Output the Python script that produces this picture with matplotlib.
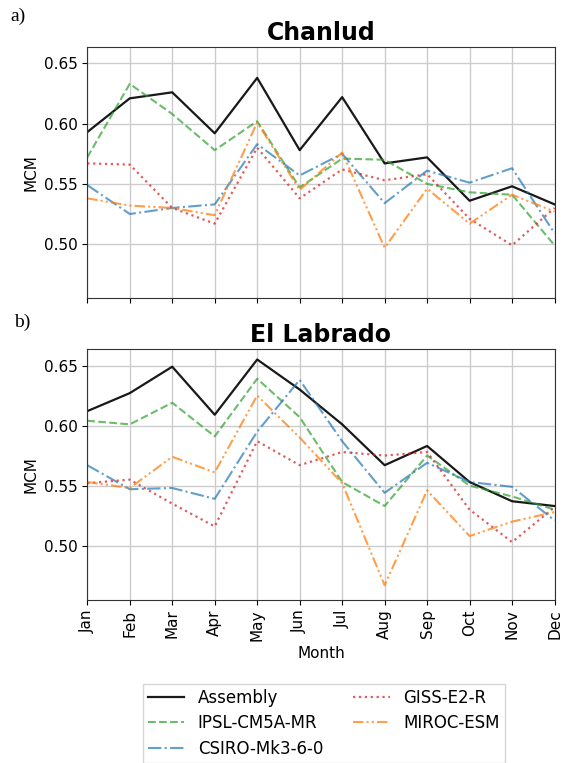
import matplotlib
matplotlib.use("Agg")
import matplotlib.pyplot as plt

months = ["Jan", "Feb", "Mar", "Apr", "May", "Jun", "Jul", "Aug", "Sep", "Oct", "Nov", "Dec"]
series_names = ["Assembly", "IPSL-CM5A-MR", "CSIRO-Mk3-6-0", "GISS-E2-R", "MIROC-ESM"]

chanlud_assembly = [0.593, 0.621, 0.626, 0.592, 0.638, 0.578, 0.622, 0.567, 0.572, 0.536, 0.548, 0.533]
chanlud_ipsl = [0.572, 0.633, 0.608, 0.578, 0.602, 0.547, 0.571, 0.570, 0.550, 0.543, 0.541, 0.499]
chanlud_csiro = [0.549, 0.525, 0.530, 0.533, 0.583, 0.557, 0.575, 0.534, 0.561, 0.551, 0.563, 0.509]
chanlud_giss = [0.567, 0.566, 0.530, 0.517, 0.580, 0.538, 0.562, 0.553, 0.558, 0.521, 0.499, 0.530]
chanlud_miroc = [0.538, 0.532, 0.530, 0.524, 0.601, 0.545, 0.576, 0.497, 0.546, 0.517, 0.541, 0.527]

labrado_assembly = [0.612, 0.627, 0.649, 0.609, 0.655, 0.630, 0.601, 0.567, 0.583, 0.553, 0.537, 0.533]
labrado_ipsl = [0.604, 0.601, 0.619, 0.591, 0.639, 0.607, 0.553, 0.533, 0.575, 0.550, 0.541, 0.530]
labrado_csiro = [0.567, 0.547, 0.548, 0.539, 0.595, 0.638, 0.587, 0.544, 0.569, 0.553, 0.549, 0.521]
labrado_giss = [0.552, 0.555, 0.535, 0.516, 0.587, 0.567, 0.578, 0.575, 0.578, 0.530, 0.503, 0.532]
labrado_miroc = [0.553, 0.548, 0.574, 0.561, 0.625, 0.590, 0.552, 0.467, 0.546, 0.508, 0.520, 0.528]

styles = [
    dict(color="black", linestyle="-", linewidth=1.6, alpha=0.9),
    dict(color="#2ca02c", linestyle="--", linewidth=1.5, alpha=0.7),
    dict(color="#1f77b4", linestyle="-.", linewidth=1.5, alpha=0.7),
    dict(color="#d62728", linestyle=":", linewidth=1.6, alpha=0.75),
    dict(color="#ff7f0e", linestyle=(0, (5, 1.5, 1, 1.5, 1, 1.5)), linewidth=1.5, alpha=0.75),
]

fig = plt.figure(figsize=(5.63, 7.63), dpi=100)
ax1 = fig.add_axes([0.155, 0.609, 0.830, 0.330])
ax2 = fig.add_axes([0.155, 0.214, 0.830, 0.329])

x = list(range(len(months)))
panels = [
    (ax1, "Chanlud", [chanlud_assembly, chanlud_ipsl, chanlud_csiro, chanlud_giss, chanlud_miroc]),
    (ax2, "El Labrado", [labrado_assembly, labrado_ipsl, labrado_csiro, labrado_giss, labrado_miroc]),
]
for ax, title, data in panels:
    for name, vals, st in zip(series_names, data, styles):
        ax.plot(x, vals, label=name, **st)
    ax.set_xlim(0, 11)
    ax.set_ylim(0.455, 0.664)
    ax.set_yticks([0.50, 0.55, 0.60, 0.65])
    ax.set_xticks(x)
    ax.grid(True, color="#cccccc", linewidth=1.0)
    ax.set_axisbelow(True)
    ax.set_ylabel("MCM", fontsize=11)
    ax.set_title(title, fontsize=17, fontweight="bold", pad=5)
    ax.tick_params(labelsize=11)
    for sp in ax.spines.values():
        sp.set_color("#333333")

ax1.set_xticklabels([])
ax2.set_xticklabels(months, rotation=90)
ax2.set_xlabel("Month", fontsize=11)

fig.text(0.018, 0.978, "a)", fontsize=14, family="Liberation Serif", va="center")
fig.text(0.025, 0.578, "b)", fontsize=14, family="Liberation Serif", va="center")

handles, labels = ax2.get_legend_handles_labels()
fig.legend(handles, labels, loc="center", bbox_to_anchor=(0.575, 0.052), ncol=2,
           fontsize=12, frameon=True, edgecolor="#cccccc", handlelength=2.2,
           columnspacing=1.8, borderpad=0.3, labelspacing=0.45, fancybox=False)

fig.savefig("out.png", dpi=100)
